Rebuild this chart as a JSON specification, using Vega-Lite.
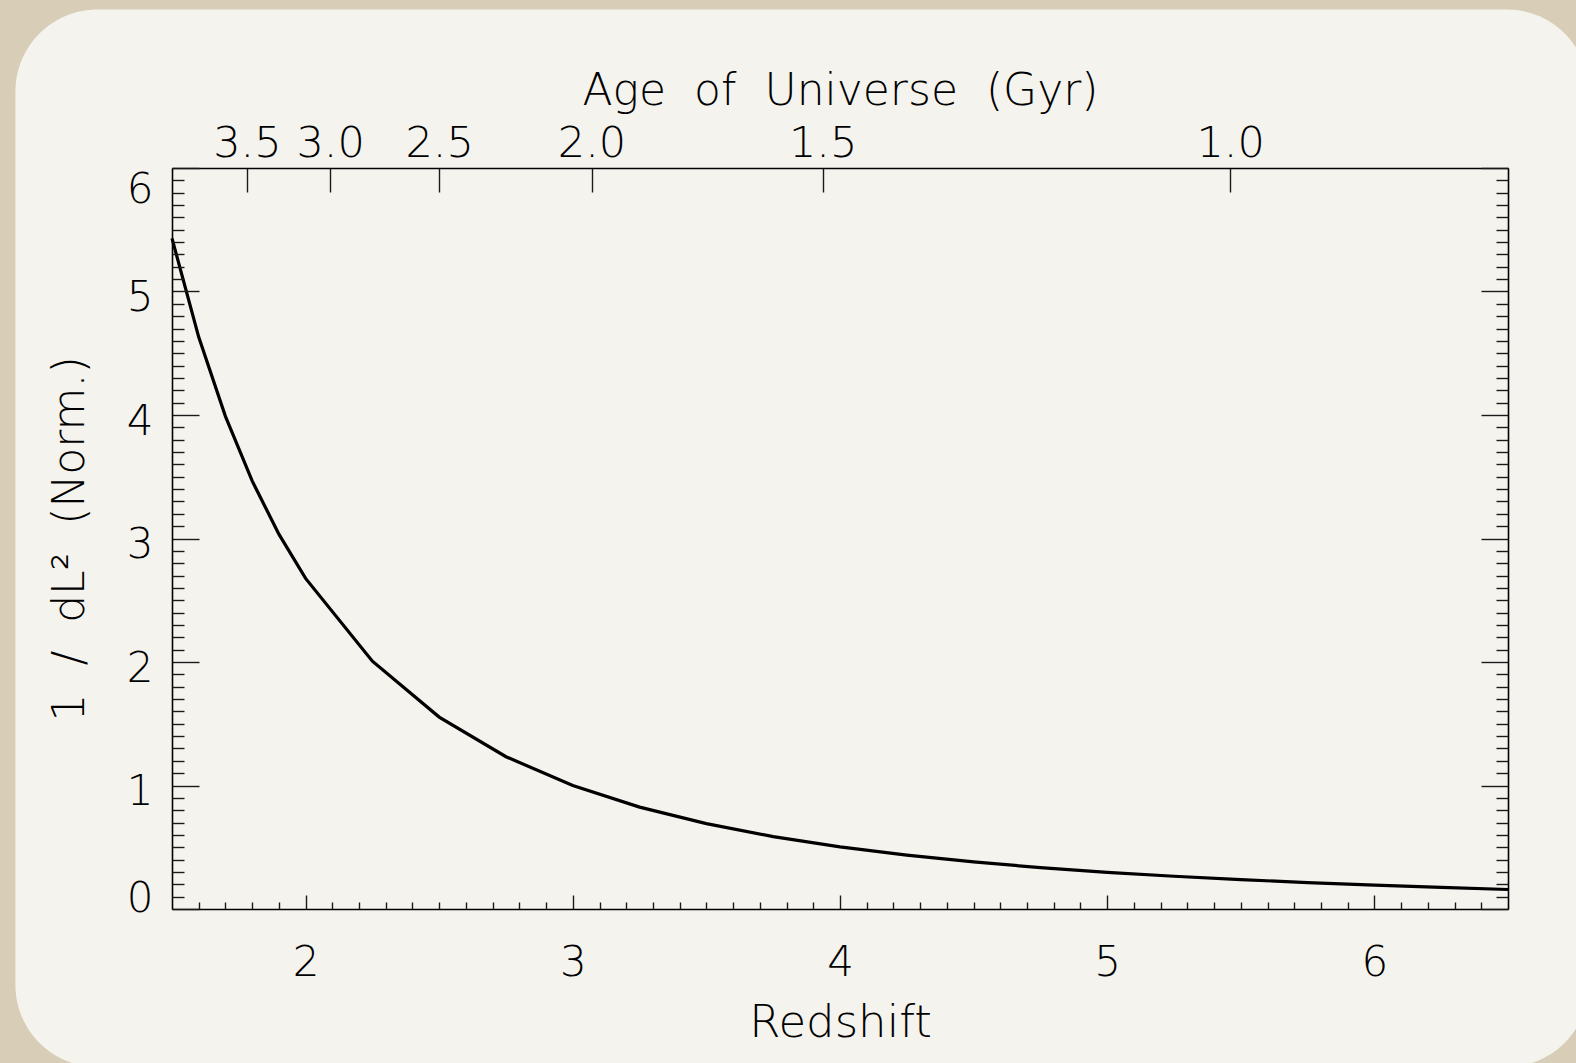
{
  "$schema": "https://vega.github.io/schema/vega-lite/v6.json",
  "width": 1336,
  "height": 741,
  "autosize": {"type": "none"},
  "padding": {"left": 172, "top": 168, "right": 68, "bottom": 154},
  "background": "#d8cdb6",
  "datasets": {
    "curve": [
      {"z": 1.5, "v": 5.430},
      {"z": 1.6, "v": 4.631},
      {"z": 1.7, "v": 3.989},
      {"z": 1.8, "v": 3.466},
      {"z": 1.9, "v": 3.035},
      {"z": 2.0, "v": 2.677},
      {"z": 2.25, "v": 2.007},
      {"z": 2.5, "v": 1.554},
      {"z": 2.75, "v": 1.233},
      {"z": 3.0, "v": 1.000},
      {"z": 3.25, "v": 0.825},
      {"z": 3.5, "v": 0.691},
      {"z": 3.75, "v": 0.586},
      {"z": 4.0, "v": 0.503},
      {"z": 4.25, "v": 0.436},
      {"z": 4.5, "v": 0.381},
      {"z": 4.75, "v": 0.335},
      {"z": 5.0, "v": 0.297},
      {"z": 5.25, "v": 0.265},
      {"z": 5.5, "v": 0.238},
      {"z": 5.75, "v": 0.214},
      {"z": 6.0, "v": 0.194},
      {"z": 6.25, "v": 0.175},
      {"z": 6.5, "v": 0.158}
    ]
  },
  "config": {
    "view": {"stroke": null},
    "axis": {
      "grid": false,
      "labelFont": "DejaVu Sans",
      "titleFont": "DejaVu Sans",
      "labelColor": "#000000",
      "titleColor": "#000000",
      "titleFontWeight": 200,
      "labelFontWeight": 200,
      "tickColor": "#1a1a1a",
      "tickWidth": 1.4,
      "domainColor": "#000000",
      "domainWidth": 1.6,
      "labelOverlap": false,
      "labelBound": false
    }
  },
  "layer": [
    {
      "data": {"values": [{}]},
      "mark": {"type": "rect", "cornerRadius": 82, "color": "#f5f3ee", "clip": false},
      "encoding": {
        "x": {"datum": 0.914, "type": "quantitative", "scale": {"domain": [1.5, 6.5], "nice": false, "zero": false}, "axis": null},
        "x2": {"datum": 6.802},
        "y": {"datum": 7.284, "type": "quantitative", "scale": {"domain": [0, 6], "nice": false, "zero": false}, "axis": null},
        "y2": {"datum": -1.279}
      }
    },
    {
      "data": {"name": "curve"},
      "mark": {"type": "line", "color": "#000000", "strokeWidth": 3.2},
      "encoding": {
        "x": {
          "field": "z", "type": "quantitative",
          "scale": {"domain": [1.5, 6.5], "nice": false, "zero": false},
          "axis": {
            "zindex": 2,
            "orient": "bottom", "values": [2, 3, 4, 5, 6], "format": "d",
            "tickSize": -14, "labelPadding": 47, "labelFontSize": 42, "labelFlush": false,
            "domain": true, "title": "Redshift", "titleFontSize": 45, "titlePadding": 17
          }
        },
        "y": {
          "field": "v", "type": "quantitative",
          "scale": {"domain": [0, 6], "nice": false, "zero": false},
          "axis": {
            "zindex": 2,
            "orient": "left", "values": [0, 1, 2, 3, 4, 5, 6], "format": "d",
            "tickSize": -27, "labelPadding": 46, "labelFontSize": 42,
            "labelFlush": true, "labelFlushOffset": 5, "labelOffset": 6,
            "domain": true, "title": "1\u00a0\u00a0/\u00a0\u00a0dL²\u00a0\u00a0(Norm.)", "titleFontSize": 44, "titlePadding": 34
          }
        }
      }
    },
    {
      "data": {"name": "curve"},
      "mark": {"type": "line", "opacity": 0},
      "encoding": {
        "x": {
          "field": "z", "type": "quantitative",
          "scale": {"domain": [1.5, 6.5], "nice": false, "zero": false},
          "axis": {
            "zindex": 2,
            "orient": "bottom",
            "values": [1.6, 1.7, 1.8, 1.9, 2.1, 2.2, 2.3, 2.4, 2.5, 2.6, 2.7, 2.8, 2.9, 3.1, 3.2, 3.3, 3.4, 3.5, 3.6, 3.7, 3.8, 3.9, 4.1, 4.2, 4.3, 4.4, 4.5, 4.6, 4.7, 4.8, 4.9, 5.1, 5.2, 5.3, 5.4, 5.5, 5.6, 5.7, 5.8, 5.9, 6.1, 6.2, 6.3, 6.4],
            "tickSize": -7, "labels": false, "domain": false, "title": null
          }
        },
        "y": {
          "field": "v", "type": "quantitative",
          "scale": {"domain": [0, 6], "nice": false, "zero": false},
          "axis": {
            "zindex": 2,
            "orient": "left",
            "values": [0.1, 0.2, 0.3, 0.4, 0.5, 0.6, 0.7, 0.8, 0.9, 1.1, 1.2, 1.3, 1.4, 1.5, 1.6, 1.7, 1.8, 1.9, 2.1, 2.2, 2.3, 2.4, 2.5, 2.6, 2.7, 2.8, 2.9, 3.1, 3.2, 3.3, 3.4, 3.5, 3.6, 3.7, 3.8, 3.9, 4.1, 4.2, 4.3, 4.4, 4.5, 4.6, 4.7, 4.8, 4.9, 5.1, 5.2, 5.3, 5.4, 5.5, 5.6, 5.7, 5.8, 5.9],
            "tickSize": -12, "labels": false, "domain": false, "title": null
          }
        }
      }
    },
    {
      "data": {"name": "curve"},
      "mark": {"type": "line", "opacity": 0},
      "encoding": {
        "x": {
          "field": "z", "type": "quantitative",
          "scale": {"domain": [1.5, 6.5], "nice": false, "zero": false},
          "axis": {
            "zindex": 2,
            "orient": "top",
            "values": [1.78, 2.092, 2.5, 3.07, 3.935, 5.46],
            "labelExpr": "datum.value < 1.9 ? '3.5' : datum.value < 2.3 ? '3.0' : datum.value < 2.8 ? '2.5' : datum.value < 3.5 ? '2.0' : datum.value < 4.5 ? '1.5' : '1.0'",
            "tickSize": -24, "labelPadding": 27, "labelFontSize": 43, "labelFlush": false,
            "domain": true, "title": "Age\u00a0\u00a0of\u00a0\u00a0Universe\u00a0\u00a0(Gyr)", "titleFontSize": 44, "titlePadding": 9
          }
        },
        "y": {
          "field": "v", "type": "quantitative",
          "scale": {"domain": [0, 6], "nice": false, "zero": false},
          "axis": {
            "zindex": 2,
            "orient": "right", "values": [0, 1, 2, 3, 4, 5, 6],
            "tickSize": -27, "labels": false, "domain": true, "title": null
          }
        }
      }
    },
    {
      "data": {"name": "curve"},
      "mark": {"type": "line", "opacity": 0},
      "encoding": {
        "x": {
          "field": "z", "type": "quantitative",
          "scale": {"domain": [1.5, 6.5], "nice": false, "zero": false},
          "axis": null
        },
        "y": {
          "field": "v", "type": "quantitative",
          "scale": {"domain": [0, 6], "nice": false, "zero": false},
          "axis": {
            "zindex": 2,
            "orient": "right",
            "values": [0.1, 0.2, 0.3, 0.4, 0.5, 0.6, 0.7, 0.8, 0.9, 1.1, 1.2, 1.3, 1.4, 1.5, 1.6, 1.7, 1.8, 1.9, 2.1, 2.2, 2.3, 2.4, 2.5, 2.6, 2.7, 2.8, 2.9, 3.1, 3.2, 3.3, 3.4, 3.5, 3.6, 3.7, 3.8, 3.9, 4.1, 4.2, 4.3, 4.4, 4.5, 4.6, 4.7, 4.8, 4.9, 5.1, 5.2, 5.3, 5.4, 5.5, 5.6, 5.7, 5.8, 5.9],
            "tickSize": -12, "labels": false, "domain": false, "title": null
          }
        }
      }
    }
  ],
  "resolve": {
    "scale": {"x": "independent", "y": "independent"},
    "axis": {"x": "independent", "y": "independent"}
  }
}
